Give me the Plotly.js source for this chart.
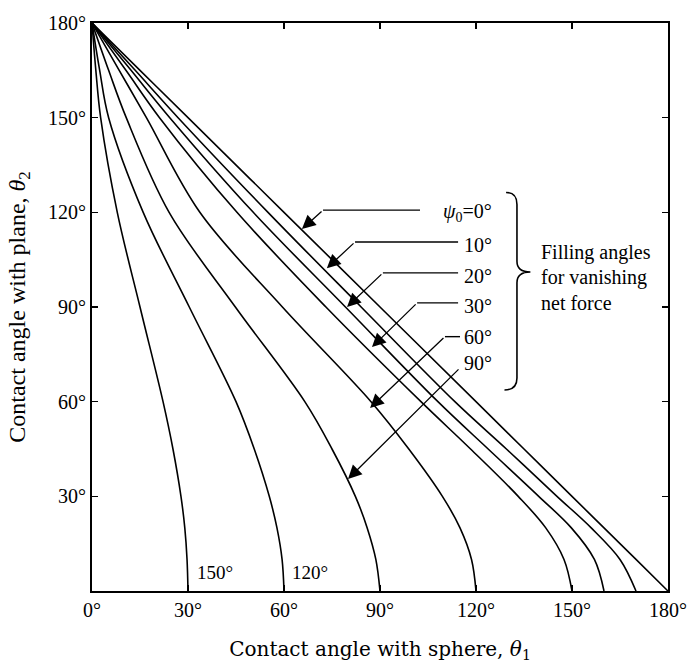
<!DOCTYPE html>
<html>
<head>
<meta charset="utf-8">
<script src="https://cdn.plot.ly/plotly-3.0.1.min.js"></script>
<style>
  html, body { margin: 0; padding: 0; background: #ffffff; }
  #chart { width: 690px; height: 668px; }
</style>
</head>
<body>
<div id="chart"></div>
<script>
// Contact angle with plane, theta2 (degrees) — common sampling levels
const theta2 = [180, 165, 150, 120, 90, 60, 45, 30, 20, 10, 0];

// Contact angle with sphere, theta1 (degrees) for each filling angle psi0
const psi0Labels = ["0°", "10°", "20°", "30°", "60°", "90°", "120°", "150°"];
const theta1_psi0   = [0, 15.0, 30.0, 60.0, 90.0, 120.0, 135.0, 150.0, 160.0, 170.0, 180];
const theta1_psi10  = [0, 13.5, 26.9, 55.0, 84.1, 113.4, 129.5, 145.3, 156.0, 165.0, 170];
const theta1_psi20  = [0, 12.2, 24.3, 50.4, 79.2, 108.1, 123.8, 139.6, 149.8, 157.0, 160];
const theta1_psi30  = [0, 10.6, 21.1, 45.3, 73.1, 102.8, 118.3, 133.2, 141.8, 147.5, 150];
const theta1_psi60  = [0, 8.5, 17.0, 33.7, 59.5, 87.2, 99.0, 109.5, 115.0, 118.6, 120];
const theta1_psi90  = [0, 5.2, 10.7, 24.1, 44.8, 66.5, 75.0, 82.3, 86.0, 88.7, 90];
const theta1_psi120 = [0, 2.4, 5.2, 16.0, 30.4, 45.0, 50.7, 55.4, 57.8, 59.4, 60];
const theta1_psi150 = [0, 1.2, 2.7, 7.9, 15.0, 22.2, 25.3, 27.8, 29.0, 29.7, 30];

const tickVals = [0, 30, 60, 90, 120, 150, 180];
const xTickText = ["0°", "30°", "60°", "90°", "120°", "150°", "180°"];
const yTickVals = [30, 60, 90, 120, 150, 180];
const yTickText = ["30°", "60°", "90°", "120°", "150°", "180°"];

const series = [theta1_psi0, theta1_psi10, theta1_psi20, theta1_psi30,
                theta1_psi60, theta1_psi90, theta1_psi120, theta1_psi150];

const traces = series.map((xs, i) => ({
  type: 'scatter',
  mode: 'lines',
  name: 'ψ0=' + psi0Labels[i],
  x: xs,
  y: theta2,
  line: { color: '#000000', width: 1.6, shape: 'spline', smoothing: 1.0 },
  hoverinfo: 'x+y',
  showlegend: false
}));

const serif = 'Liberation Serif';
const wideSerif = 'DejaVu Serif';

// leader lines (horizontal parts) for the filling-angle labels
const shapes = [
  { type: 'line', xref: 'x', yref: 'y', x0: 72.2, y0: 120.7, x1: 102.5, y1: 120.7, line: { color: '#000', width: 1.4 } },
  { type: 'line', xref: 'x', yref: 'y', x0: 82.2, y0: 110.6, x1: 114.4, y1: 110.6, line: { color: '#000', width: 1.4 } },
  { type: 'line', xref: 'x', yref: 'y', x0: 90.9, y0: 100.8, x1: 114.4, y1: 100.8, line: { color: '#000', width: 1.4 } },
  { type: 'line', xref: 'x', yref: 'y', x0: 101.6, y0: 91.3, x1: 114.4, y1: 91.3, line: { color: '#000', width: 1.4 } },
  { type: 'line', xref: 'x', yref: 'y', x0: 110.3, y0: 80.6, x1: 115.0, y1: 80.6, line: { color: '#000', width: 1.4 } },
  // curly brace
  { type: 'path', xref: 'x', yref: 'y',
    path: 'M 129.4 126.3 Q 132.8 126.3 132.8 122.5 L 132.8 104.5 Q 132.8 101.1 137.0 101.1 Q 132.8 101.1 132.8 97.7 L 132.8 67.5 Q 132.8 63.7 128.9 63.7',
    line: { color: '#000', width: 1.6 } }
];

function arrow(xTip, yTip, xTail, yTail) {
  return { x: xTip, y: yTip, ax: xTail, ay: yTail, xref: 'x', yref: 'y', axref: 'x', ayref: 'y',
           text: '', showarrow: true, arrowhead: 2, arrowsize: 2.1, arrowwidth: 1.3, arrowcolor: '#000' };
}
function label(txt, x, y, anchor, size) {
  return { x: x, y: y, xref: 'x', yref: 'y', text: txt, showarrow: false, xanchor: anchor || 'right',
           yanchor: 'middle', font: { family: serif, size: size || 20, color: '#000' } };
}

const annotations = [
  arrow(65.6, 114.7, 72.2, 120.7),
  arrow(73.4, 102.3, 82.2, 110.6),
  arrow(79.7, 90.0, 90.9, 100.8),
  arrow(87.5, 77.3, 101.6, 91.3),
  arrow(86.9, 58.0, 110.3, 80.6),
  arrow(80.0, 35.5, 115.0, 70.7),
  label('<i>ψ</i><sub>0</sub>=0°', 125.6, 120.1),
  label('10°', 125.6, 109.6),
  label('20°', 125.6, 99.8),
  label('30°', 125.6, 90.3),
  label('60°', 125.6, 80.5),
  label('90°', 125.6, 72.2),
  label('Filling angles', 139.8, 107.4, 'left', 20),
  label('for vanishing', 139.8, 99.2, 'left', 20),
  label('net force', 139.8, 91.3, 'left', 20),
  label('150°', 32.2, 6.0, 'left', 19),
  label('120°', 61.9, 6.0, 'left', 19)
];

const axisCommon = {
  range: [0, 180],
  showgrid: false,
  zeroline: false,
  showline: true,
  linecolor: '#000',
  linewidth: 2,
  mirror: 'ticks',
  ticks: 'inside',
  ticklen: 6,
  tickwidth: 1.5,
  tickcolor: '#000',
  tickfont: { family: serif, size: 20, color: '#000' },
  fixedrange: true
};

const layout = {
  width: 690,
  height: 668,
  margin: { l: 92, r: 22, t: 23, b: 77 },
  paper_bgcolor: '#ffffff',
  plot_bgcolor: '#ffffff',
  showlegend: false,
  xaxis: Object.assign({}, axisCommon, {
    tickvals: tickVals, ticktext: xTickText,
    title: { text: 'Contact angle with sphere, <i>θ</i><sub>1</sub>', font: { family: wideSerif, size: 20, color: '#000' }, standoff: 22 }
  }),
  yaxis: Object.assign({}, axisCommon, {
    tickvals: yTickVals, ticktext: yTickText,
    title: { text: 'Contact angle with plane, <i>θ</i><sub>2</sub>', font: { family: serif, size: 24, color: '#000' }, standoff: 16 }
  }),
  shapes: shapes,
  annotations: annotations
};

Plotly.newPlot('chart', traces, layout, { displayModeBar: false, staticPlot: true });
</script>
</body>
</html>
